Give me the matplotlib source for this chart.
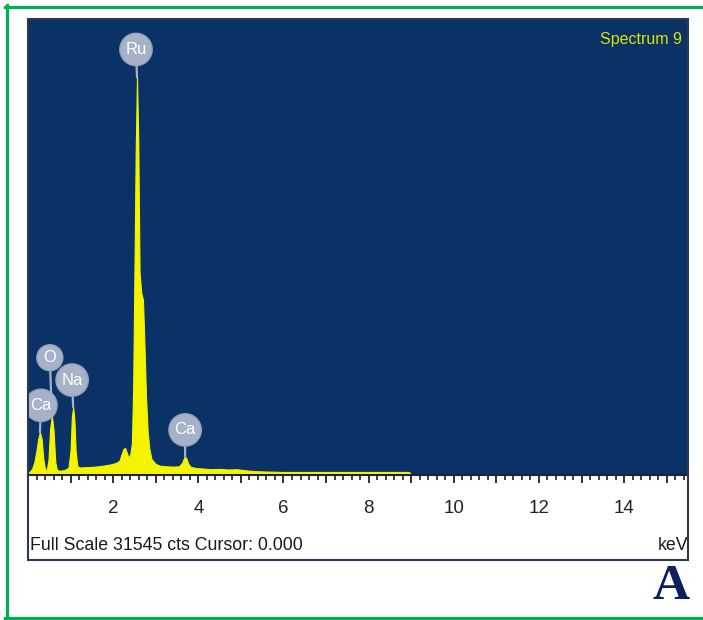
import matplotlib
matplotlib.use("Agg")
import matplotlib.pyplot as plt
from matplotlib.lines import Line2D
from matplotlib.patches import Rectangle
from matplotlib.ticker import MultipleLocator

# EDS spectrum, energy in keV and counts
energy = [0.00, 0.05, 0.10, 0.15, 0.20, 0.24, 0.28, 0.32, 0.36, 0.40, 0.44, 0.48,
          0.52, 0.56, 0.60, 0.64, 0.68, 0.75, 0.85, 0.95, 1.00, 1.03, 1.06, 1.09,
          1.12, 1.16, 1.22, 1.35, 1.50, 1.65, 1.80, 1.95, 2.08, 2.15, 2.20, 2.24,
          2.28, 2.32, 2.36, 2.40, 2.44, 2.47, 2.50, 2.53, 2.56, 2.59, 2.62, 2.66,
          2.70, 2.73, 2.77, 2.81, 2.85, 2.90, 3.00, 3.10, 3.25, 3.40, 3.55, 3.62,
          3.66, 3.69, 3.72, 3.76, 3.82, 3.95, 4.10, 4.30, 4.50, 4.70, 4.90, 5.10,
          5.30, 5.60, 6.00, 7.00, 8.00, 8.95, 9.00]
counts = [150, 250, 450, 900, 1700, 2500, 2950, 2500, 1100, 400, 350, 1000,
          3200, 4100, 3100, 900, 350, 300, 330, 500, 1700, 4000, 4700, 3800,
          1600, 600, 520, 540, 560, 600, 660, 740, 850, 1000, 1450, 1800,
          1870, 1550, 1200, 1400, 2200, 6000, 14000, 22500, 27500, 23000, 14000, 12600,
          12100, 9500, 5500, 3000, 1800, 1100, 760, 640, 600, 580, 600, 850,
          1150, 1250, 1150, 800, 560, 480, 450, 400, 420, 380, 400, 330,
          270, 240, 210, 210, 210, 210, 0]

full_scale = 31545
peak_labels = ["Ca", "O", "Na", "Ru", "Ca"]
peak_energy = [0.28, 0.56, 1.06, 2.56, 3.69]
peak_counts = [2950, 4100, 4700, 27500, 1250]
label_offset = [(1, 27), (-2, 58), (-1, 27), (-1, 28), (0, 27)]

font = ["Liberation Sans", "DejaVu Sans"]
W, H = 703, 620

fig = plt.figure(figsize=(W / 100, H / 100), dpi=100)
fig.patch.set_facecolor("white")

ax = fig.add_axes([28 / W, 1 - 475 / H, 660 / W, 456 / H])
ax.set_facecolor("#0b3267")
ax.fill_between(energy, counts, facecolor="#f4f400", edgecolor="#f4f400", lw=0.8)
ax.set_xlim(0, 15.5)
ax.set_ylim(0, full_scale)
ax.set_yticks([])
for s in ["top", "left", "right"]:
    ax.spines[s].set_visible(False)
ax.spines["bottom"].set_color("#20252e")
ax.spines["bottom"].set_linewidth(1.5)
ax.spines["bottom"].set_zorder(5)

ax.set_xticks(range(1, 16))
ax.set_xticklabels(["" if i % 2 else str(i) for i in range(1, 16)], family=font)
ax.xaxis.set_minor_locator(MultipleLocator(0.2))
ax.tick_params(axis="x", which="major", length=6, width=1.3, color="#222222",
               pad=12, labelsize=13.5, labelcolor="#222222")
ax.tick_params(axis="x", which="minor", length=3.5, width=1.2, color="#222222")

ax.text(0.991, 0.954, "Spectrum 9", transform=ax.transAxes, ha="right",
        va="center", color="#dce600", fontsize=11.5, family=font)

# element markers, clipped to the plot area
for lab, e, c, off in zip(peak_labels, peak_energy, peak_counts, label_offset):
    a = ax.annotate(lab, xy=(e, c), xytext=off, textcoords="offset pixels",
                    ha="center", va="center", color="white", fontsize=12,
                    family=font,
                    bbox=dict(boxstyle="circle,pad=0.33", fc="#a6b2c7",
                              ec="#95a2b9", lw=1),
                    arrowprops=dict(arrowstyle="-", color="#a6b2c7", lw=1.6,
                                    shrinkA=0, shrinkB=0))
    a.set_clip_on(True)
    a.set_clip_path(ax.patch)

# panel frame
fig.add_artist(Rectangle((28 / W, 1 - 560 / H), 660 / W, 541 / H,
                         transform=fig.transFigure, fill=False,
                         ec="#2b3a4f", lw=1.5))

fig.text(30 / W, 1 - 545 / H, "Full Scale 31545 cts Cursor: 0.000",
         ha="left", va="center", fontsize=12.8, family=font, color="#1a1a1a")
fig.text(688 / W, 1 - 545 / H, "keV", ha="right", va="center",
         fontsize=12.8, family=font, color="#1a1a1a")

fig.text(690 / W, 1 - 599 / H, "A", ha="right", va="baseline",
         family="Liberation Serif", weight="bold", fontsize=37, color="#0d1f5c")

# green outer border (open on the right)
g = "#00b050"
for xs, ys in [([5, 703], [6.5, 6.5]), ([6.5, 6.5], [5, 618]),
               ([5, 703], [617.5, 617.5])]:
    fig.add_artist(Line2D([x / W for x in xs], [1 - y / H for y in ys],
                          transform=fig.transFigure, color=g, lw=2.3))

fig.savefig("out.png", dpi=100)
